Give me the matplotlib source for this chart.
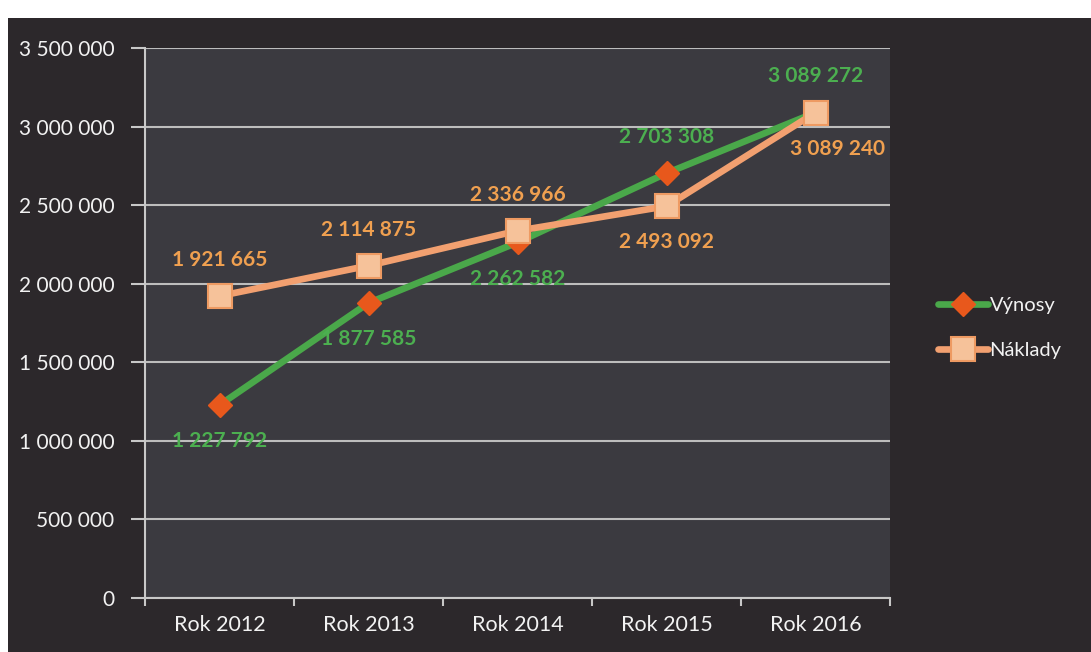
import matplotlib
matplotlib.use("Agg")
import matplotlib.pyplot as plt
from matplotlib.patches import Rectangle
from matplotlib.ticker import FuncFormatter, FixedLocator

categories = ["Rok 2012", "Rok 2013", "Rok 2014", "Rok 2015", "Rok 2016"]
vynosy = [1227792, 1877585, 2262582, 2703308, 3089272]
naklady = [1921665, 2114875, 2336966, 2493092, 3089240]
vynosy_pos = ["below", "below", "below", "above", "above"]
naklady_pos = ["above", "above", "above", "below", "below"]
yticks = [0, 500000, 1000000, 1500000, 2000000, 2500000, 3000000, 3500000]

plt.rcParams['font.family'] = ['Lato', 'DejaVu Sans']

W, H = 1091, 652
fig = plt.figure(figsize=(W / 100, H / 100), dpi=100, facecolor='white')
fig.patches.append(Rectangle((8 / W, 0), 1 - 8 / W, (H - 18) / H, transform=fig.transFigure,
                             facecolor='#2c282b', edgecolor='none', zorder=-10))

ax = fig.add_axes([145 / W, (H - 598) / H, (890 - 145) / W, (598 - 48) / H])
ax.set_facecolor('#3b3a40')

x = list(range(len(categories)))
ax.plot(x, vynosy, color='#4aa84a', lw=4.8, marker='D', markersize=12,
        markerfacecolor='#e8581c', markeredgecolor='#e8581c', zorder=3, label='Výnosy',
        solid_capstyle='round')
ax.plot(x, naklady, color='#f2a070', lw=4.8, marker='s', markersize=17,
        markerfacecolor='#f6c29a', markeredgecolor='#ee9a62', markeredgewidth=1.5,
        zorder=4, label='Náklady', solid_capstyle='round')

def fmt(v):
    return f"{int(v):,}".replace(",", " ")

for i, (v, p) in enumerate(zip(vynosy, vynosy_pos)):
    dy = 26 if p == "above" else -26
    ax.annotate(fmt(v), (i, v), xytext=(0, dy), textcoords='offset points',
                ha='center', va='center', color='#4caf50', fontsize=15, fontweight='bold', zorder=6)
for i, (v, p) in enumerate(zip(naklady, naklady_pos)):
    dy = 26 if p == "above" else -26
    dx = 16 if i == len(naklady) - 1 else 0
    ax.annotate(fmt(v), (i, v), xytext=(dx, dy), textcoords='offset points',
                ha='center', va='center', color='#f0a050', fontsize=15, fontweight='bold', zorder=6)

ax.set_xlim(-0.5, len(categories) - 0.5)
ax.set_ylim(0, 3500000)
ax.yaxis.set_major_locator(FixedLocator(yticks))
ax.yaxis.set_major_formatter(FuncFormatter(lambda v, p: fmt(v)))
ax.set_xticks(x)
ax.set_xticklabels(categories)
ax.set_xticks([i - 0.5 for i in range(len(categories) + 1)], minor=True)
ax.tick_params(axis='x', which='major', length=0, pad=12, labelsize=15.5, labelcolor='#f2f2f2')
ax.tick_params(axis='x', which='minor', length=6, color='#c8c8c8', width=1.5)
ax.tick_params(axis='y', length=10, color='#c8c8c8', width=1.5, pad=12, labelsize=15,
               labelcolor='#f2f2f2')
ax.grid(axis='y', color='#bdbdbd', lw=1.5)
ax.set_axisbelow(True)
for s in ['top', 'right']:
    ax.spines[s].set_visible(False)
for s in ['left', 'bottom']:
    ax.spines[s].set_color('#c8c8c8')
    ax.spines[s].set_linewidth(1.5)

leg = fig.legend(loc='center left', bbox_to_anchor=(920 / W, (H - 328) / H), frameon=False,
                 fontsize=14.5, labelcolor='#f2f2f2', handlelength=2.5, handletextpad=0.05,
                 labelspacing=1.4)

fig.savefig('out.png', dpi=100, facecolor=fig.get_facecolor())
